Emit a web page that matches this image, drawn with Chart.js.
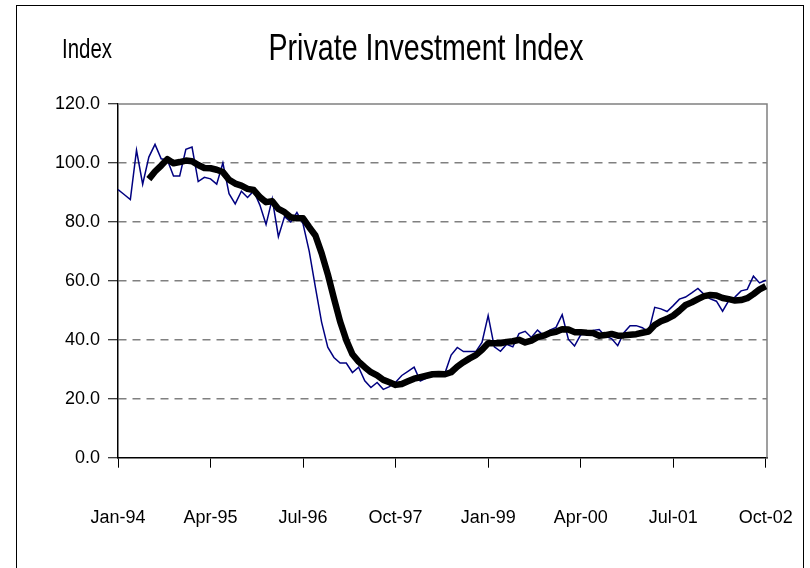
<!DOCTYPE html>
<html><head><meta charset="utf-8">
<script src="https://cdn.jsdelivr.net/npm/chart.js@4.4.1/dist/chart.umd.min.js"></script>
<style>
html,body{margin:0;padding:0;background:#fff;}
#wrap{position:relative;width:810px;height:568px;overflow:hidden;background:#fff;}
#frame{position:absolute;left:16px;top:5px;width:788px;height:600px;border:1px solid #000;box-sizing:border-box;}
canvas{position:absolute;left:0;top:0;}
</style></head><body>
<div id="wrap"><div id="frame"></div><canvas id="c" width="810" height="568"></canvas></div>
<script>
const tickLabels = ['Jan-94','Apr-95','Jul-96','Oct-97','Jan-99','Apr-00','Jul-01','Oct-02'];
const tickStep = 15; // months between labelled ticks
const yTicks = [0, 20, 40, 60, 80, 100, 120];

// Monthly index, Jan-94 .. Oct-02
const monthlyIndex = [
  91.0, 89.3, 87.6, 104.3, 92.8, 102.0, 106.3, 101.4, 101.0, 95.6, 95.6, 104.6,
  105.4, 93.7, 95.1, 94.6, 92.8, 100.0, 89.6, 86.1, 90.4, 88.3, 90.5, 85.7,
  79.1, 87.8, 75.0, 81.8, 80.0, 83.2, 79.3, 70.0, 57.8, 46.0, 37.5, 34.0,
  32.1, 32.1, 28.9, 30.7, 26.1, 23.8, 25.5, 23.2, 24.1, 25.6, 27.9, 29.3,
  30.7, 26.0, 27.0, 28.6, 29.0, 28.7, 34.8, 37.4, 36.0, 36.0, 36.0, 39.1,
  48.2, 37.6, 36.1, 38.5, 37.6, 42.1, 42.9, 40.8, 43.3, 41.4, 43.3, 44.2,
  48.5, 40.2, 37.9, 41.7, 42.0, 43.2, 43.5, 41.2, 40.4, 38.0, 42.4, 44.8,
  44.8, 44.1, 42.6, 51.0, 50.5, 49.6, 51.6, 53.8, 54.5, 55.9, 57.4, 55.4,
  53.9, 53.1, 49.7, 53.3, 54.5, 56.6, 57.1, 61.6, 59.3, 60.2
];

// Smoothed trend line (thick black), begins at Jun-94
const trendStart = 5;
const trendLine = [
  94.5, 97.1, 99.1, 101.3, 99.9, 100.3, 100.8,
  100.6, 99.3, 98.3, 98.2, 97.7, 96.9, 94.3, 93.0, 92.3, 91.2, 90.8, 88.4,
  86.7, 87.0, 84.4, 83.3, 81.6, 81.2, 81.2, 78.2, 75.4, 69.4, 62.3, 54.1,
  46.2, 39.9, 35.1, 32.6, 30.7, 29.0, 27.9, 26.4, 25.6, 24.7, 25.0, 25.9,
  26.8, 27.3, 27.8, 28.3, 28.4, 28.3, 29.0, 30.9, 32.4, 33.7, 34.8, 36.6,
  38.8, 38.8, 38.8, 39.3, 39.5, 40.0, 39.1, 39.7, 40.9, 41.4, 42.3, 42.7,
  43.6, 43.5, 42.6, 42.6, 42.4, 42.3, 41.4, 41.6, 42.0, 41.4, 41.5, 41.7,
  41.9, 42.4, 42.8, 45.0, 46.3, 47.1, 48.2, 49.9, 51.8, 52.7, 53.8, 54.8,
  55.2, 55.0, 54.2, 53.8, 53.3, 53.5, 54.1, 55.5, 57.1, 58.2
];

const titleText = 'Private Investment Index';
const yUnitText = 'Index';

const regular = '"Liberation Sans", Arial, sans-serif';

function drawCondensed(ctx, text, x, y, size, targetWidth, align) {
  ctx.save();
  ctx.font = size + 'px ' + regular;
  const w = ctx.measureText(text).width;
  const sx = targetWidth / w;
  ctx.translate(x, y);
  ctx.scale(sx, 1);
  ctx.textAlign = align;
  ctx.textBaseline = 'alphabetic';
  ctx.fillStyle = '#000';
  ctx.fillText(text, 0, 0);
  ctx.restore();
}

const plotFrame = {
  id: 'plotFrame',
  beforeDatasetsDraw(chart) {
    const { ctx, chartArea: a } = chart;
    ctx.save();
    ctx.strokeStyle = '#808080';
    ctx.lineWidth = 1.5;
    ctx.beginPath();
    ctx.moveTo(a.left, a.top);
    ctx.lineTo(a.right, a.top);
    ctx.lineTo(a.right, a.bottom);
    ctx.stroke();
    ctx.restore();
  }
};

const headings = {
  id: 'headings',
  afterDraw(chart) {
    const ctx = chart.ctx;
    drawCondensed(ctx, titleText, 426, 60, 36, 315, 'center');
    drawCondensed(ctx, yUnitText, 62, 58, 27, 50, 'left');
  }
};

new Chart(document.getElementById('c'), {
  type: 'line',
  data: {
    datasets: [
      {
        label: 'Private Investment Index',
        data: monthlyIndex.map((v, i) => ({ x: i, y: v })),
        borderColor: '#000080',
        borderWidth: 1.5,
        pointRadius: 0,
        tension: 0,
        order: 2
      },
      {
        label: 'Trend',
        data: trendLine.map((v, k) => ({ x: k + trendStart, y: v })),
        borderColor: '#000000',
        borderWidth: 6.5,
        pointRadius: 0,
        tension: 0,
        borderJoinStyle: 'round',
        order: 1
      }
    ]
  },
  options: {
    responsive: false,
    animation: false,
    layout: { padding: { left: 0, right: 43, top: 104, bottom: 0 } },
    plugins: { legend: { display: false }, tooltip: { enabled: false } },
    scales: {
      x: {
        type: 'linear',
        min: 0,
        max: 105.2,
        afterBuildTicks: s => { s.ticks = tickLabels.map((t, k) => ({ value: k * tickStep })); },
        afterFit: s => { s.height = 110.3; s.paddingLeft = 0; s.paddingRight = 0; },
        ticks: {
          callback: v => tickLabels[Math.round(v / tickStep)],
          padding: 40,
          color: '#000',
          font: { family: regular, size: 18 },
          maxRotation: 0,
          autoSkip: false
        },
        grid: { drawOnChartArea: false, drawTicks: true, tickLength: 10, tickColor: '#000', tickWidth: 1 },
        border: { display: true, color: '#000', width: 1.5 }
      },
      y: {
        min: 0,
        max: 120,
        afterBuildTicks: s => { s.ticks = yTicks.map(v => ({ value: v })); },
        afterFit: s => { s.width = 118; },
        ticks: {
          callback: v => Number(v).toFixed(1),
          padding: 8,
          color: '#000',
          font: { family: regular, size: 18 }
        },
        grid: {
          color: c => (c.tick && (c.tick.value === 0 || c.tick.value === 120)) ? 'rgba(0,0,0,0)' : '#808080',
          lineWidth: 1.5,
          drawTicks: true,
          tickLength: 10,
          tickColor: '#000',
          tickWidth: 1
        },
        border: { display: true, color: '#000', width: 1.5, dash: [8, 6] }
      }
    }
  },
  plugins: [plotFrame, headings]
});
</script>
</body></html>
